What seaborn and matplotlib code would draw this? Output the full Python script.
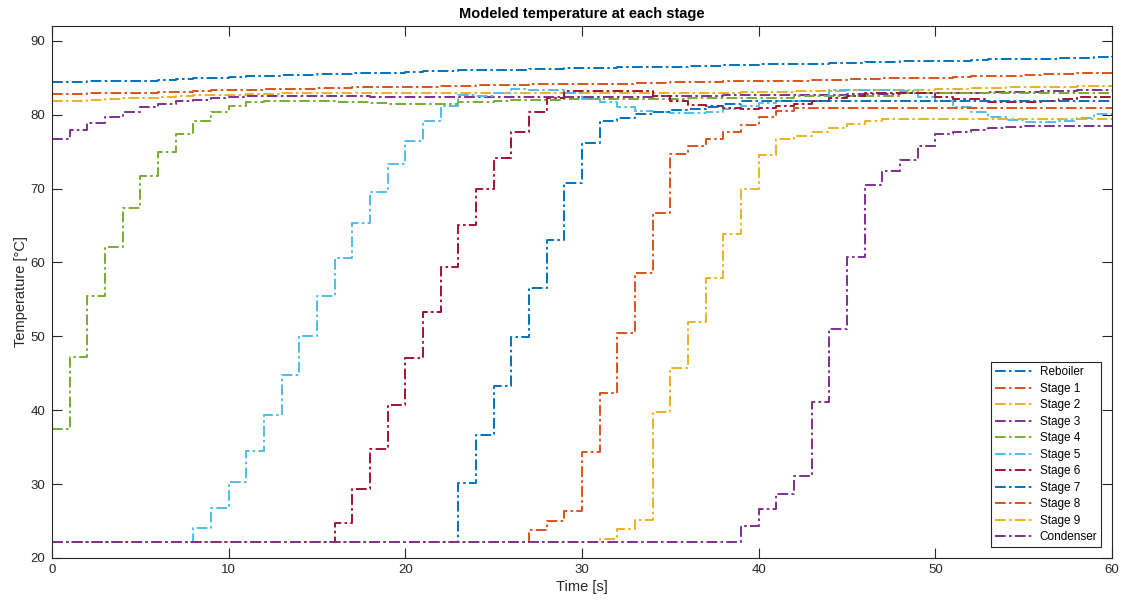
import numpy as np
import pandas as pd
import matplotlib
matplotlib.use("Agg")
import matplotlib.pyplot as plt
import seaborn as sns

# ---------------- data ----------------
time_s = list(range(0, 61))

series_names = ["Reboiler", "Stage 1", "Stage 2", "Stage 3", "Stage 4", "Stage 5",
                "Stage 6", "Stage 7", "Stage 8", "Stage 9", "Condenser"]

reboiler = [84.4, 84.4, 84.5, 84.5, 84.6, 84.6, 84.7, 84.8, 84.9, 85.0, 85.1, 85.2, 85.3,
            85.4, 85.4, 85.5, 85.5, 85.6, 85.7, 85.7, 85.8, 85.9, 85.9, 86.0, 86.1,
            86.1, 86.1, 86.2, 86.2, 86.3, 86.3, 86.3, 86.4, 86.4, 86.5, 86.5, 86.6,
            86.6, 86.7, 86.7, 86.8, 86.8, 86.9, 86.9, 87.0, 87.0, 87.1, 87.1, 87.2,
            87.2, 87.3, 87.3, 87.4, 87.5, 87.5, 87.6, 87.6, 87.7, 87.7, 87.8, 87.9]

stage1 = [82.8, 82.8, 82.9, 82.9, 83.0, 83.0, 83.1, 83.1, 83.2, 83.3, 83.3, 83.4, 83.5,
          83.5, 83.5, 83.6, 83.6, 83.7, 83.7, 83.7, 83.8, 83.8, 83.9, 83.9, 84.0,
          84.0, 84.0, 84.1, 84.1, 84.1, 84.2, 84.2, 84.2, 84.3, 84.3, 84.4, 84.4,
          84.4, 84.5, 84.5, 84.5, 84.6, 84.6, 84.7, 84.7, 84.8, 84.8, 84.9, 84.9,
          85.0, 85.0, 85.1, 85.2, 85.3, 85.3, 85.4, 85.5, 85.5, 85.6, 85.7, 85.8]

stage2 = [81.9, 81.9, 82.0, 82.1, 82.2, 82.3, 82.4, 82.5, 82.6, 82.6, 82.7, 82.8, 82.8,
          82.9, 82.9, 82.9, 82.9, 82.9, 82.9, 82.9, 82.9, 82.9, 82.9, 82.9, 82.9,
          82.9, 82.9, 82.9, 82.9, 82.9, 82.9, 82.9, 82.9, 82.9, 83.0, 83.0, 83.0,
          83.0, 83.0, 83.1, 83.1, 83.1, 83.2, 83.2, 83.2, 83.3, 83.3, 83.3, 83.4,
          83.4, 83.5, 83.5, 83.6, 83.6, 83.7, 83.7, 83.8, 83.8, 83.9, 83.9, 84.0]

stage3 = [76.7, 77.9, 78.9, 79.7, 80.4, 81.0, 81.4, 81.9, 82.0, 82.2, 82.4, 82.5, 82.5,
          82.5, 82.5, 82.5, 82.5, 82.5, 82.4, 82.4, 82.4, 82.4, 82.4, 82.4, 82.4,
          82.4, 82.4, 82.4, 82.4, 82.4, 82.4, 82.4, 82.4, 82.4, 82.5, 82.5, 82.5,
          82.5, 82.6, 82.6, 82.6, 82.7, 82.7, 82.7, 82.7, 82.8, 82.8, 82.8, 82.9,
          82.9, 83.0, 83.0, 83.0, 83.1, 83.1, 83.1, 83.2, 83.2, 83.3, 83.3, 83.4]

stage4 = [37.4, 47.2, 55.4, 62.1, 67.4, 71.7, 75.0, 77.4, 79.2, 80.4, 81.2, 81.7, 81.9,
          81.9, 81.9, 81.8, 81.7, 81.7, 81.6, 81.5, 81.5, 81.5, 81.5, 81.7, 81.7,
          81.8, 82.0, 82.0, 82.0, 82.1, 82.1, 82.1, 82.1, 82.1, 82.1, 82.1, 82.2,
          82.2, 82.2, 82.2, 82.2, 82.2, 82.5, 82.5, 82.5, 82.5, 82.5, 82.5, 83.0,
          83.0, 83.0, 83.0, 83.0, 82.9, 82.9, 82.9, 82.9, 82.9, 82.9, 82.9, 82.9]

stage5 = [22.2, 22.2, 22.2, 22.2, 22.2, 22.2, 22.2, 22.2, 24.1, 26.8, 30.3, 34.5, 39.4,
          44.7, 50.0, 55.4, 60.6, 65.3, 69.5, 73.3, 76.5, 79.1, 81.2, 82.6, 82.5,
          83.0, 83.5, 83.4, 83.4, 82.9, 82.1, 81.7, 81.0, 80.5, 80.3, 80.2, 80.2,
          80.4, 80.7, 81.2, 81.6, 81.9, 81.9, 81.9, 83.4, 83.4, 83.4, 83.3, 83.2,
          82.4, 81.8, 81.0, 80.3, 79.7, 79.3, 79.0, 79.0, 79.2, 79.6, 80.1, 80.1]

stage6 = [22.2] * 16 + [24.8, 29.3, 34.8, 40.7, 47.1, 53.3, 59.4, 65.1, 70.0,
          74.2, 77.7, 80.3, 82.3, 83.2, 83.2, 83.2, 83.2, 83.2, 82.5, 81.9, 81.3,
          81.2, 80.9, 80.8, 80.9, 81.2, 81.5, 81.8, 82.3, 82.5, 82.9, 82.9, 82.9,
          82.9, 82.4, 82.1, 82.1, 81.7, 81.7, 81.7, 81.9, 82.1, 82.4, 82.4, 82.4]

stage7 = [22.2] * 23 + [30.2, 36.7, 43.3, 49.9, 56.5, 63.0, 70.7, 76.1, 79.2, 79.5,
          80.1, 80.4, 80.6, 80.8, 81.1, 81.5, 81.8, 81.9, 81.9, 81.9, 81.9, 81.9,
          81.9, 81.9, 81.9, 81.9, 81.9, 81.9, 81.9, 81.9, 81.9, 81.9, 81.9, 81.9,
          81.9, 81.9, 81.9, 81.9]

stage8 = [22.2] * 27 + [23.8, 25.0, 26.3, 34.3, 42.3, 50.5, 58.6, 66.7, 74.7, 75.8,
          76.7, 77.7, 78.6, 79.7, 80.5, 80.9, 80.9, 80.9, 80.9, 80.9, 80.9, 80.9,
          80.9, 80.9, 80.9, 80.9, 80.9, 80.9, 80.9, 80.9, 80.9, 80.9, 80.9, 80.9]

stage9 = [22.1] * 31 + [22.6, 23.9, 25.2, 39.7, 45.7, 51.9, 57.9, 63.9, 69.9, 74.6,
          76.7, 77.1, 77.6, 78.2, 78.8, 79.2, 79.4, 79.4, 79.4, 79.4, 79.4, 79.4,
          79.4, 79.4, 79.4, 79.4, 79.4, 79.4, 79.4, 79.4]

condenser = [22.2] * 39 + [24.3, 26.6, 28.7, 31.1, 41.1, 51.0, 60.8, 70.5, 72.4, 73.9,
             75.7, 77.4, 77.6, 77.9, 78.2, 78.3, 78.5, 78.5, 78.5, 78.5, 78.5, 78.5]

all_series = [reboiler, stage1, stage2, stage3, stage4, stage5,
              stage6, stage7, stage8, stage9, condenser]

x_ticks = [0, 10, 20, 30, 40, 50, 60]
y_ticks = [20, 30, 40, 50, 60, 70, 80, 90]

# ---------------- style ----------------
matlab_colors = ["#0072BD", "#D95319", "#EDB120", "#7E2F8E", "#77AC30",
                 "#4DBEEE", "#A2142F"]
colors = [matlab_colors[i % 7] for i in range(len(series_names))]

sns.set_theme(style="white")
plt.rcParams["font.family"] = ["Liberation Sans", "DejaVu Sans"]
axis_col = "#262626"

fig = plt.figure(figsize=(11.26, 6.05), dpi=100)
ax = fig.add_axes([52 / 1126, 1 - 558 / 605, (1112 - 52) / 1126, (558 - 26) / 605])

for name, vals, col in zip(series_names, all_series, colors):
    df = pd.DataFrame({"Time": time_s, "Temp": vals})
    sns.lineplot(data=df, x="Time", y="Temp", ax=ax, color=col, label=name,
                 estimator=None, drawstyle="steps-post", linewidth=1.4,
                 linestyle=(0, (5.5, 1.7, 1.3, 1.7)))

ax.set_xlim(0, 60)
ax.set_ylim(20, 92)
ax.set_xticks(x_ticks)
ax.set_yticks(y_ticks)
ax.set_xticklabels([str(v) for v in x_ticks])
ax.set_yticklabels([str(v) for v in y_ticks])

for sp in ax.spines.values():
    sp.set_visible(True)
    sp.set_color(axis_col)
    sp.set_linewidth(0.8)

ax.tick_params(axis="both", which="major", direction="in", length=7, width=0.8,
               color=axis_col, labelcolor=axis_col, labelsize=9.5,
               top=True, right=True, bottom=True, left=True)
ax.tick_params(axis="x", pad=4)
ax.tick_params(axis="y", pad=5)

ax.set_xlabel("Time [s]", fontsize=10.5, color=axis_col, labelpad=3)
ax.set_ylabel("Temperature [°C]", fontsize=10.5, color=axis_col, labelpad=2)
ax.set_title("Modeled temperature at each stage", fontsize=10.5,
             fontweight="bold", color="black", pad=6)

leg = ax.legend(loc="lower right", fontsize=8.5, frameon=True, fancybox=False,
                framealpha=1, edgecolor=axis_col, handlelength=3.3,
                handletextpad=0.5, labelspacing=0.38, borderpad=0.35,
                borderaxespad=0.9)
leg.get_frame().set_linewidth(0.8)
for txt in leg.get_texts():
    txt.set_color("black")

fig.savefig("out.png", dpi=100, facecolor="white")
